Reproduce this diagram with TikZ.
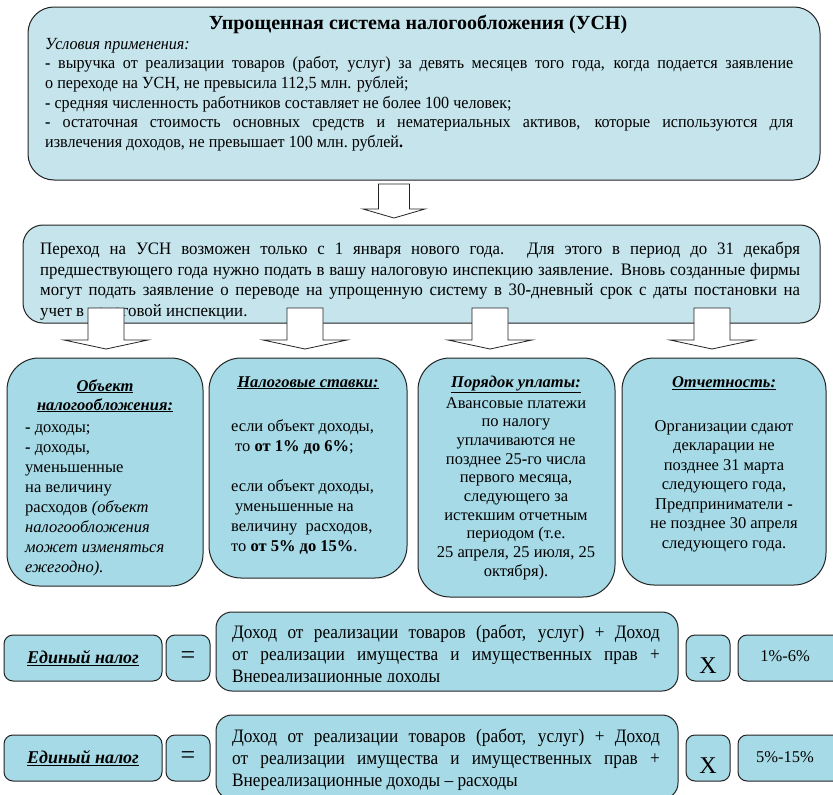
\documentclass[tikz,border=0pt]{standalone}
\usepackage{fontspec}
\setmainfont{Liberation Serif}
\usetikzlibrary{calc}

\definecolor{paleblue}{RGB}{197,228,236}
\definecolor{boxblue}{RGB}{166,218,230}
\definecolor{rim}{RGB}{35,35,35}

\tikzset{
  panel/.style={draw=rim, line width=1pt, fill=boxblue, rounded corners=12pt, inner sep=0pt},
  headtext/.style={font=\fontsize{16.5}{20}\selectfont\bfseries\itshape, anchor=north, align=center, inner sep=0pt},
  bodytext/.style={font=\fontsize{16.5}{20}\selectfont, anchor=north west, align=left, inner sep=0pt},
  longtext/.style={anchor=north west, inner sep=0pt, align=justify, transform shape},
  blockarrow/.style={draw=rim, fill=white, line width=0.8pt, line join=miter}
}

% #1 top of shaft, #2 tip, #3 half shaft, #4 half head
\newcommand{\hollowarrow}[4]{%
  \draw[blockarrow] ($(#1)+(-#3,0)$) -- ($(#2)+(-#3,-9)$) -- ($(#2)+(-#4,-9)$) -- (#2)
    -- ($(#2)+(#4,-9)$) -- ($(#2)+(#3,-9)$) -- ($(#1)+(#3,0)$) -- cycle;}

\newcommand{\uline}[1]{\underline{#1}}

\begin{document}
\begin{tikzpicture}[x=1pt,y=-1pt]
  \useasboundingbox (0,0) rectangle (833,795);

  \begin{scope}[every node/.style={panel}]
    \node[fill=paleblue, rounded corners=26pt, minimum width=792pt, minimum height=173pt] (usn) at (424,93.5) {};
    \node[fill=paleblue, rounded corners=20pt, minimum width=797pt, minimum height=98pt] (perehod) at (421.5,274) {};

    \node[rounded corners=32pt, minimum width=196pt, minimum height=228pt] (obj) at (105,472) {};
    \node[rounded corners=32pt, minimum width=198pt, minimum height=220pt] (stavki) at (308,468) {};
    \node[rounded corners=32pt, minimum width=197pt, minimum height=239pt] (poryadok) at (516.5,477.5) {};
    \node[rounded corners=32pt, minimum width=204pt, minimum height=227pt] (otchet) at (724,471.5) {};

    \node[rounded corners=9pt, minimum width=158pt, minimum height=46pt] (nalog1) at (83,658) {};
    \node[rounded corners=9pt, minimum width=44pt, minimum height=46pt] (eq1) at (188,658) {};
    \node[rounded corners=16pt, minimum width=462pt, minimum height=79pt] (baza1) at (447,651.5) {};
    \node[rounded corners=9pt, minimum width=44pt, minimum height=46pt] (mul1) at (708,658) {};
    \node[rounded corners=9pt, minimum width=107pt, minimum height=46pt] (rate1) at (791.5,658) {};

    \node[rounded corners=9pt, minimum width=158pt, minimum height=46pt] (nalog2) at (83,758) {};
    \node[rounded corners=9pt, minimum width=44pt, minimum height=46pt] (eq2) at (188,758) {};
    \node[rounded corners=16pt, minimum width=462pt, minimum height=84pt] (baza2) at (447,757) {};
    \node[rounded corners=9pt, minimum width=44pt, minimum height=46pt] (mul2) at (708,758) {};
    \node[rounded corners=9pt, minimum width=107pt, minimum height=46pt] (rate2) at (791.5,758) {};
  \end{scope}

  \node[font=\bfseries\fontsize{20}{22}\selectfont, anchor=base] (usnhead) at (418,29) {Упрощенная система налогообложения (УСН)};
  \begin{scope}[shift={(45,38)}, xscale=0.947]
    \node[longtext, font=\fontsize{17}{19.6}\selectfont, text width=790pt] (usntext) at (0,0)
      {\textit{Условия применения:}\newline
       \textbf{-} выручка от реализации товаров (работ, услуг) за девять месяцев того года, когда подается заявление\linebreak
       о переходе на УСН, не превысила 112,5 млн. рублей;\newline
       \textbf{-} средняя численность работников составляет не более 100 человек;\newline
       \textbf{-} остаточная стоимость основных средств и нематериальных активов, которые используются для\linebreak
       извлечения доходов, не превышает 100 млн.~рублей\textbf{.}};
  \end{scope}

  \begin{scope}[shift={(40,242)}, xscale=0.962]
    \node[longtext, font=\fontsize{17.5}{20.5}\selectfont, text width=790pt] (perehodtext) at (0,0)
      {Переход на УСН возможен только с 1 января нового года. Для этого в период до 31 декабря\linebreak
       предшествующего года нужно подать в вашу налоговую инспекцию заявление. Вновь созданные фирмы\linebreak
       могут подать заявление о переводе на упрощенную систему в 30\textbf{-}дневный срок с даты постановки на\linebreak
       учет в налоговой инспекции.};
  \end{scope}

  \node[headtext] (objhead) at (105,379) {\uline{Объект}\\[-1pt]\uline{налогообложения:}};
  \node[bodytext] (objtext) at (25,425)
    {\textbf{-} доходы;\\
     \textbf{-} доходы,\\
     уменьшенные\\
     на величину\\
     расходов \textit{(объект}\\
     \textit{налогообложения}\\
     \textit{может изменяться}\\
     \textit{ежегодно).}};

  \node[headtext] (stavkihead) at (308,376) {\uline{Налоговые ставки:}};
  \node[bodytext] (stavkitext) at (231,419)
    {если объект доходы,\\
     \hspace*{4pt}то \textbf{от 1\% до 6\%};\\[20pt]
     если объект доходы,\\
     \hspace*{4pt}уменьшенные на\\
     величину\ \ расходов,\\
     то \textbf{от 5\% до 15\%}.};

  \node[headtext] (poryadokhead) at (516,376) {\uline{Порядок уплаты:}};
  \node[bodytext, anchor=north, align=center, font=\fontsize{16.5}{18.7}\selectfont] (poryadoktext) at (516,397)
    {Авансовые платежи\\
     по налогу\\
     уплачиваются не\\
     позднее 25\textbf{-}го числа\\
     первого месяца,\\
     следующего за\\
     истекшим отчетным\\
     периодом (т.е.\\
     25 апреля, 25 июля, 25\\
     октября).};

  \node[headtext] (otchethead) at (724,376) {\uline{Отчетность:}};
  \node[bodytext, anchor=north, align=center, font=\fontsize{16.5}{19.5}\selectfont] (otchettext) at (724,420)
    {Организации сдают\\
     декларации не\\
     позднее 31 марта\\
     следующего года,\\
     Предприниматели \textbf{-}\\
     не позднее 30 апреля\\
     следующего года.};

  \node[font=\bfseries\itshape\fontsize{18}{20}\selectfont] (nalog1t) at (nalog1) {\uline{Единый налог}};
  \node[font=\fontsize{26}{26}\selectfont] (eq1t) at (eq1) {=};
  \begin{scope}
    \clip (216,612) rectangle (678,681);
    \begin{scope}[shift={(232,625)}, xscale=0.91]
      \node[longtext, font=\fontsize{19}{22}\selectfont, text width=470pt] (baza1t) at (0,0)
        {Доход от реализации товаров (работ, услуг) + Доход\linebreak
         от реализации имущества и имущественных прав +\linebreak
         Внереализационные доходы};
    \end{scope}
  \end{scope}
  \node[font=\fontsize{24}{24}\selectfont, anchor=base] (mul1t) at (708,673) {X};
  \node[font=\fontsize{16.5}{20}\selectfont, anchor=base] (rate1t) at (785,661) {1\%-6\%};

  \node[font=\bfseries\itshape\fontsize{18}{20}\selectfont] (nalog2t) at (nalog2) {\uline{Единый налог}};
  \node[font=\fontsize{26}{26}\selectfont] (eq2t) at (eq2) {=};
  \begin{scope}[shift={(232,729)}, xscale=0.91]
    \node[longtext, font=\fontsize{19}{22}\selectfont, text width=470pt] (baza2t) at (0,0)
      {Доход от реализации товаров (работ, услуг) + Доход\linebreak
       от реализации имущества и имущественных прав +\linebreak
       Внереализационные доходы – расходы};
  \end{scope}
  \node[font=\fontsize{24}{24}\selectfont, anchor=base] (mul2t) at (708,773) {X};
  \node[font=\fontsize{16.5}{20}\selectfont, anchor=base] (rate2t) at (785,762) {5\%-15\%};

  \begin{scope}[]
    \coordinate (s0) at (394,184);  \coordinate (t0) at (394,218);
    \coordinate (s1) at (106,308);  \coordinate (t1) at (106,349);
    \coordinate (s2) at (305,308);  \coordinate (t2) at (305,349);
    \coordinate (s3) at (490,308);  \coordinate (t3) at (490,349);
    \coordinate (s4) at (712,308);  \coordinate (t4) at (712,349);
    \hollowarrow{s0}{t0}{15.5}{31}
    \hollowarrow{s1}{t1}{18}{42}
    \hollowarrow{s2}{t2}{18}{42}
    \hollowarrow{s3}{t3}{18}{42}
    \hollowarrow{s4}{t4}{18}{42}
  \end{scope}
\end{tikzpicture}
\end{document}
